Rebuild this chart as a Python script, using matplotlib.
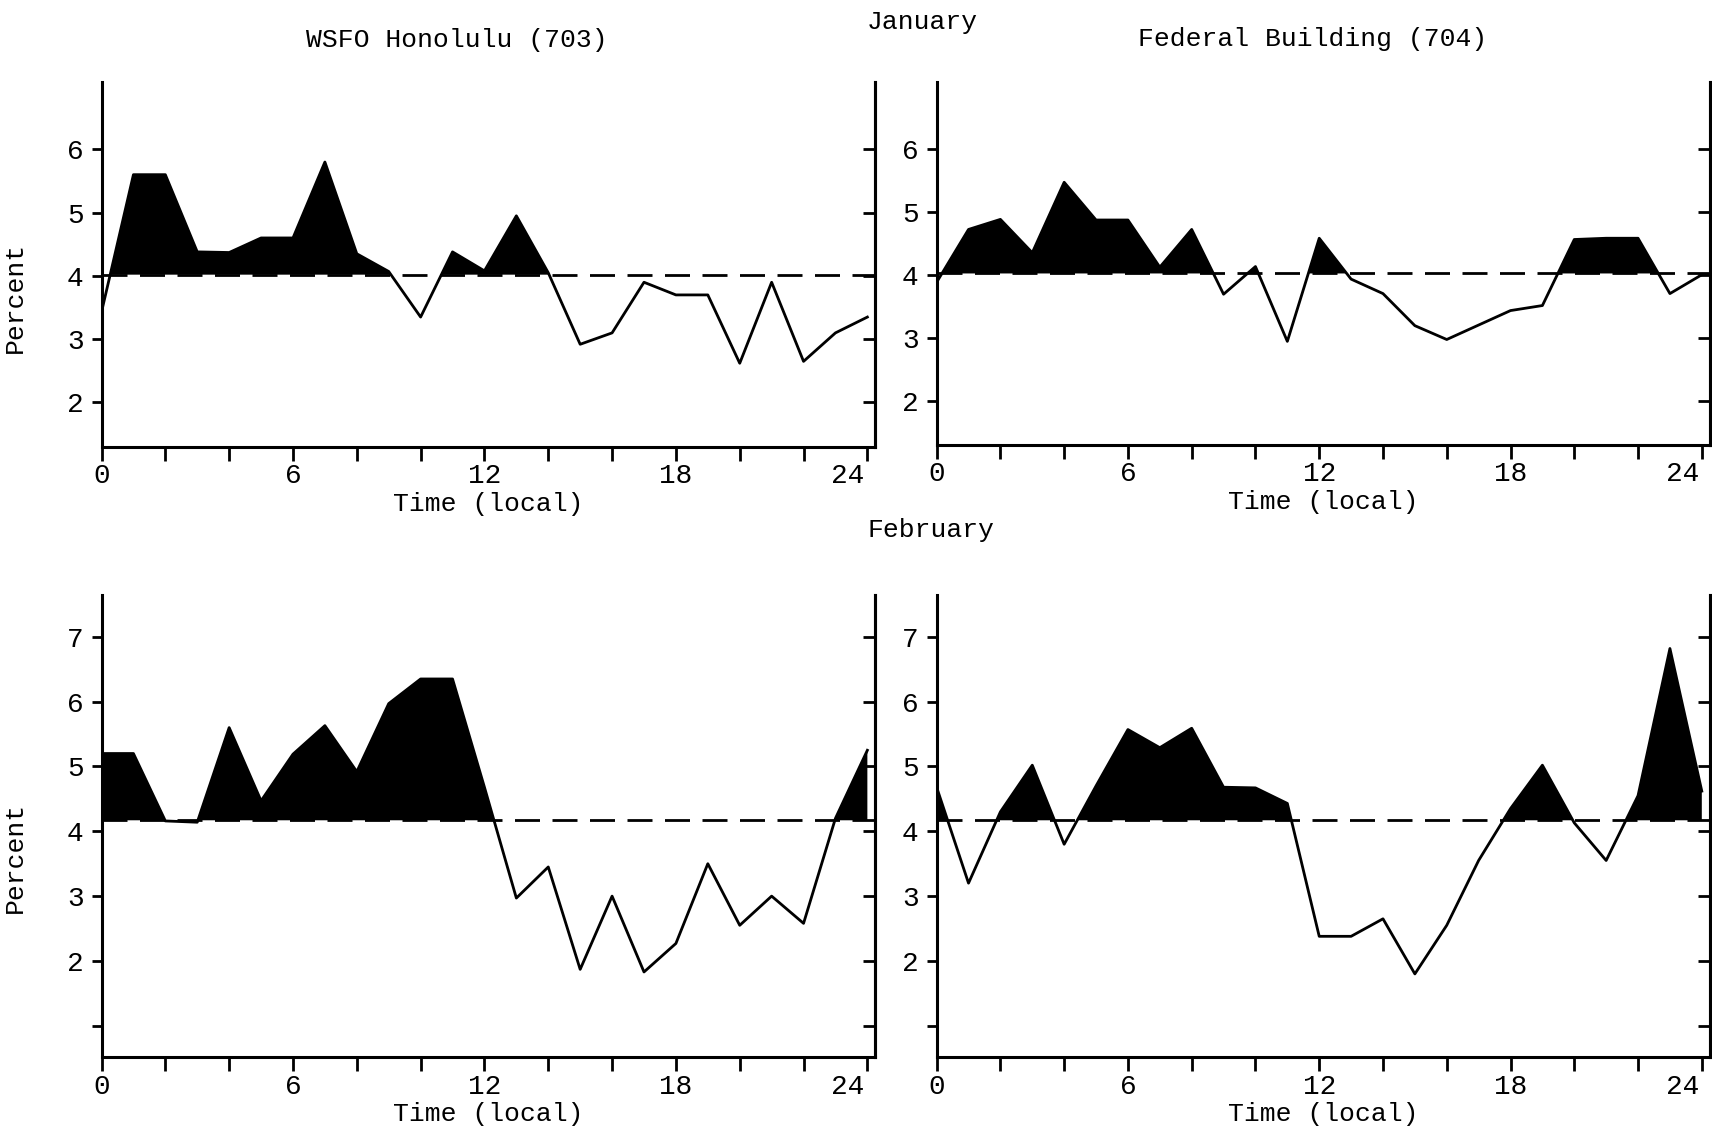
import matplotlib
matplotlib.use('Agg')
import matplotlib.pyplot as plt
from matplotlib.ticker import FixedLocator, NullFormatter
from matplotlib.transforms import ScaledTranslation

plt.rcParams['font.family'] = ['Liberation Mono', 'DejaVu Sans Mono']

# hourly frequency (percent), hour 0..24
hours = list(range(25))
jan_703 = [3.43, 5.6, 5.6, 4.38, 4.37, 4.6, 4.6, 5.8, 4.35, 4.07, 3.35, 4.38, 4.08, 4.95, 4.05,
           2.92, 3.1, 3.9, 3.7, 3.7, 2.62, 3.9, 2.65, 3.1, 3.35]
jan_704 = [3.88, 4.72, 4.88, 4.35, 5.47, 4.87, 4.87, 4.12, 4.72, 3.69, 4.13, 2.94, 4.58, 3.93, 3.7,
           3.19, 2.97, 3.2, 3.43, 3.51, 4.56, 4.58, 4.58, 3.7, 4.0]
feb_703 = [5.2, 5.2, 4.16, 4.14, 5.6, 4.47, 5.19, 5.63, 4.92, 5.97, 6.35, 6.35, 4.68, 2.97, 3.45,
           1.87, 3.0, 1.83, 2.27, 3.5, 2.55, 3.0, 2.58, 4.2, 5.25]
feb_704 = [4.68, 3.2, 4.3, 5.02, 3.8, 4.7, 5.57, 5.29, 5.59, 4.68, 4.67, 4.43, 2.38, 2.38, 2.65,
           1.8, 2.55, 3.55, 4.35, 5.02, 4.13, 3.55, 4.55, 6.82, 4.62]

# reference (mean) level drawn as the dashed line
jan_ref = 4.02
feb_ref = 4.17

stations = ['WSFO Honolulu (703)', 'Federal Building (704)']
months = ['January', 'February']
x_major = [0, 6, 12, 18, 24]
x_minor = [2, 4, 8, 10, 14, 16, 20, 22]
jan_yticks = [2, 3, 4, 5, 6]
jan_ylabels = ['2', '3', '4', '5', '6']
feb_yticks = [1, 2, 3, 4, 5, 6, 7]
feb_ylabels = ['', '2', '3', '4', '5', '6', '7']

TICK_FS = 20
TEXT_FS = 19


def draw_panel(ax, values, ref, ylim, yticks, ylabels, ylabel_y=None):
    ax.fill_between(hours, values, ref, where=[v > ref for v in values],
                    interpolate=True, color='black', lw=0, zorder=2)
    ax.plot(hours, values, color='black', lw=2.0, zorder=3)
    ax.axhline(ref, color='black', lw=2.0, dashes=(9, 4.5), zorder=1)

    ax.set_xlim(0, 24.25)
    ax.set_ylim(*ylim)
    for s in ['left', 'bottom', 'right']:
        ax.spines[s].set_linewidth(2.2)
    ax.spines['top'].set_visible(False)

    ax.xaxis.set_major_locator(FixedLocator(x_major))
    ax.xaxis.set_minor_locator(FixedLocator(x_minor))
    ax.xaxis.set_minor_formatter(NullFormatter())
    ax.tick_params(axis='x', which='both', direction='out', length=10, width=2,
                   labelsize=TICK_FS, pad=2)
    ax.set_yticks(yticks)
    ax.set_yticklabels(ylabels)
    ax.tick_params(axis='y', direction='out', length=7, width=2, labelsize=TICK_FS, pad=6)

    # the hand-lettered "24" sits a bit left of its tick
    fig = ax.figure
    last = ax.get_xticklabels()[-1]
    last.set_transform(last.get_transform() + ScaledTranslation(-14 / 72, 0, fig.dpi_scale_trans))

    sec = ax.secondary_yaxis('right')
    sec.set_yticks(yticks)
    sec.set_yticklabels([])
    sec.tick_params(direction='in', length=9, width=2)
    sec.spines['right'].set_linewidth(2.2)

    ax.set_xlabel('Time (local)', fontsize=TEXT_FS, labelpad=2)
    if ylabel_y is not None:
        ax.set_ylabel('Percent', fontsize=TEXT_FS)
        ax.yaxis.set_label_coords(-0.096, ylabel_y)


fig = plt.figure(figsize=(17.12, 11.34), dpi=100)

ax1 = fig.add_axes([0.0593, 0.606, 0.452, 0.322])
ax2 = fig.add_axes([0.5471, 0.608, 0.4516, 0.320])
ax3 = fig.add_axes([0.0593, 0.068, 0.452, 0.407])
ax4 = fig.add_axes([0.5471, 0.068, 0.4516, 0.407])

draw_panel(ax1, jan_703, jan_ref, (1.3, 7.07), jan_yticks, jan_ylabels, ylabel_y=0.41)
draw_panel(ax2, jan_704, jan_ref, (1.3, 7.07), jan_yticks, jan_ylabels)
draw_panel(ax3, feb_703, feb_ref, (0.52, 7.64), feb_yticks, feb_ylabels, ylabel_y=0.433)
draw_panel(ax4, feb_704, feb_ref, (0.52, 7.64), feb_yticks, feb_ylabels)

fig.text(0.2666, 0.9647, stations[0], ha='center', va='center', fontsize=TEXT_FS)
fig.text(0.767, 0.966, stations[1], ha='center', va='center', fontsize=TEXT_FS)
fig.text(0.539, 0.981, months[0], ha='center', va='center', fontsize=TEXT_FS)
fig.text(0.544, 0.533, months[1], ha='center', va='center', fontsize=TEXT_FS)

fig.savefig('out.png', dpi=100, facecolor='white')
